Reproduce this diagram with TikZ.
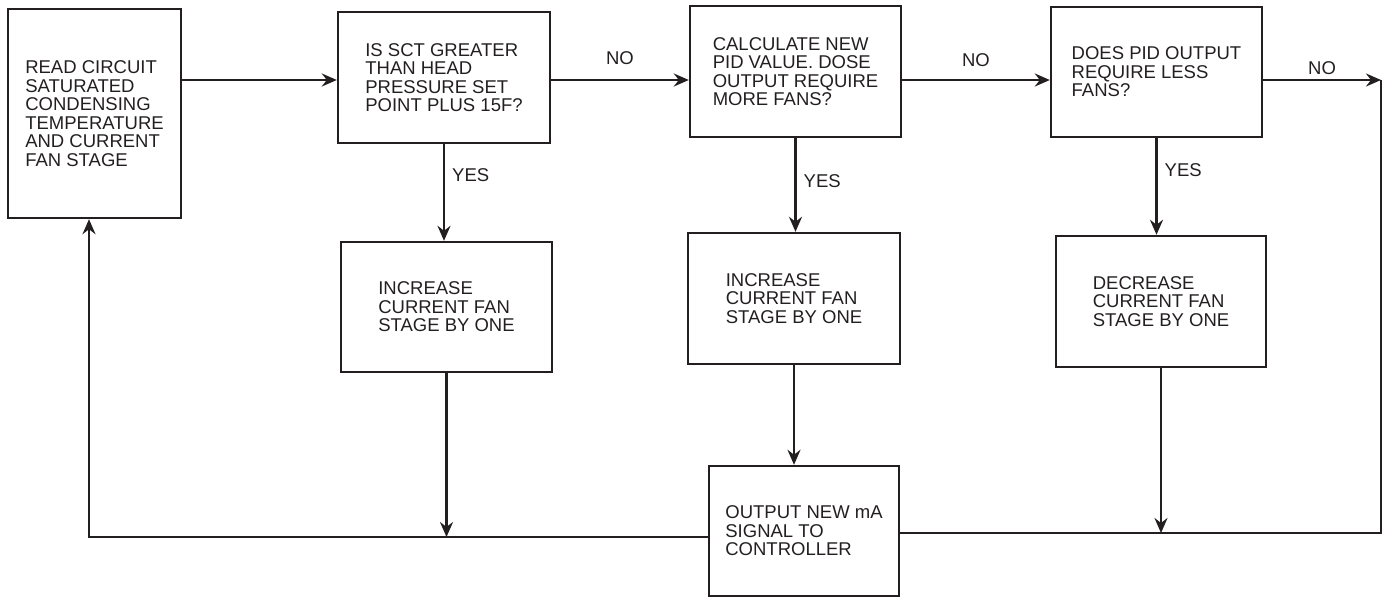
\documentclass[tikz,border=0pt]{standalone}
\usepackage{fontspec}
\setmainfont{Liberation Sans}
\usetikzlibrary{arrows.meta, positioning}
\definecolor{inkgray}{HTML}{231F20}

\begin{document}
\begin{tikzpicture}[
    x=1pt, y=1pt, inkgray, line join=miter,
    flowbox/.style={draw=inkgray, line width=2.4pt, inner sep=0pt, align=left, font=\fontsize{18.5}{18.5}\selectfont},
    flowline/.style={draw=inkgray, line width=2.4pt},
    flowarrow/.style={flowline, -{Stealth[length=15pt, width=13pt, inset=5pt]}},
    answer/.style={inner sep=0pt, font=\fontsize{18.5}{18.5}\selectfont}
  ]
    \useasboundingbox (0,0) rectangle (1382,-597);

    % Lectura (izquierda)
    \node[flowbox, minimum width=173pt, minimum height=209pt] (ReadSCT) at (94.5,-113.5) {
      READ CIRCUIT\\SATURATED\\CONDENSING\\TEMPERATURE\\AND CURRENT\\FAN STAGE};

    % Preguntas (fila superior)
    \node[flowbox, minimum width=212pt, minimum height=131pt] (CheckSCT) at (444,-77.5) {
      IS SCT GREATER\\THAN HEAD\\PRESSURE SET\\POINT PLUS 15F?};
    \node[flowbox, minimum width=211pt, minimum height=131pt] (CalcPID) at (795.5,-71.5) {
      CALCULATE NEW\\PID VALUE. DOSE\\OUTPUT REQUIRE\\MORE FANS?};
    \node[flowbox, minimum width=211pt, minimum height=130pt] (LessFans) at (1156.5,-72) {
      DOES PID OUTPUT\\REQUIRE LESS\\FANS?};

    % Etapas (fila media)
    \node[flowbox, minimum width=211pt, minimum height=130pt] (IncStageA) at (446.5,-307) {
      INCREASE\\CURRENT FAN\\STAGE BY ONE};
    \node[flowbox, minimum width=212pt, minimum height=131pt] (IncStageB) at (794,-298.5) {
      INCREASE\\CURRENT FAN\\STAGE BY ONE};
    \node[flowbox, minimum width=210pt, minimum height=131pt] (DecStage) at (1161,-301.5) {
      DECREASE\\CURRENT FAN\\STAGE BY ONE};

    % Salida (abajo)
    \node[flowbox, minimum width=190pt, minimum height=130pt] (Output) at (804,-531) {
      OUTPUT NEW mA\\SIGNAL TO\\CONTROLLER};

    % Puntos auxiliares
    \coordinate (mainline) at (0,-80);
    \coordinate (exitNO) at (1381,-80);
    \coordinate (joinL) at ([yshift=-6pt]Output.west);
    \coordinate (joinR) at ([yshift=-2pt]Output.east);

    % Linea principal (NO)
    \draw[flowarrow] (ReadSCT.east |- mainline) -- (CheckSCT.west |- mainline);
    \draw[flowarrow] (CheckSCT.east |- mainline) -- node[answer, above=14pt] {NO} (CalcPID.west |- mainline);
    \draw[flowarrow] (CalcPID.east |- mainline) -- node[answer, above=12pt] {NO} (LessFans.west |- mainline);
    \draw[flowarrow] (LessFans.east |- mainline) -- node[answer, above=4pt] {NO} (exitNO);

    % Ramas YES
    \draw[flowarrow] (CheckSCT.south) -- node[answer, pos=0.32, right=7pt] {YES} (CheckSCT.south |- IncStageA.north);
    \draw[flowarrow] (CalcPID.south) -- node[answer, pos=0.46, right=7pt] {YES} (CalcPID.south |- IncStageB.north);
    \draw[flowarrow] (LessFans.south) -- node[answer, pos=0.33, right=7pt] {YES} (LessFans.south |- DecStage.north);

    % Hacia la salida y retorno
    \draw[flowarrow] (IncStageB.south) -- (IncStageB.south |- Output.north);
    \draw[flowarrow] (IncStageA.south) -- (IncStageA.south |- joinL);
    \draw[flowarrow] (DecStage.south) -- (DecStage.south |- joinR);
    \draw[flowarrow] (joinL) -| ([xshift=-5.5pt]ReadSCT.south);
    \draw[flowline] (joinR) -| (exitNO);

  \end{tikzpicture}
\end{document}
